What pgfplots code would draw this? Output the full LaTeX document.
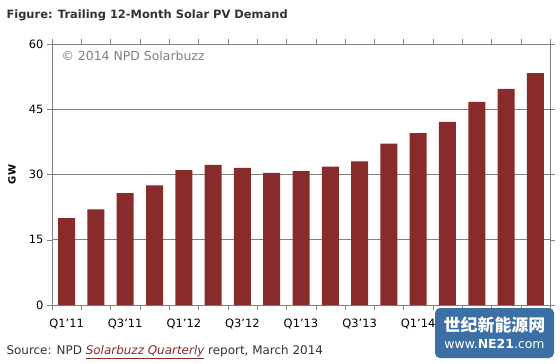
\documentclass[border=0pt]{standalone}
\usepackage{pgfplots}
\pgfplotsset{compat=1.18}
\usepackage{fontspec}
\setmainfont{DejaVu Sans}
\newfontfamily\cjk{Noto Sans CJK SC}
\definecolor{barred}{RGB}{137,42,43}
\definecolor{gridgray}{RGB}{128,128,128}
\definecolor{txt}{RGB}{51,51,51}
\definecolor{wmblue}{RGB}{60,111,163}
\begin{document}
\begin{tikzpicture}[x=1bp,y=1bp]
\useasboundingbox (0,0) rectangle (560,363);
\fill[white] (0,0) rectangle (560,363);
\node[anchor=west,text=txt,font=\fontsize{11.5}{13}\selectfont\bfseries] at (3,348) {Figure: Trailing 12-Month Solar PV Demand};
\begin{axis}[
  at={(52bp,58bp)}, anchor=south west,
  scale only axis, width=498bp, height=261bp,
  xmin=-0.5, xmax=16.5, ymin=0, ymax=60,
  ytick={0,15,30,45,60},
  xtick={0,2,...,16},
  xticklabels={Q1'11,Q3'11,Q1'12,Q3'12,Q1'13,Q3'13,Q1'14,Q3'14,Q1'15},
  minor xtick={-0.5,0.5,...,16.5},
  x tick style={draw=none},
  minor x tick style={draw=gridgray},
  y tick style={draw=gridgray},
  tick align=outside,
  major tick length=5bp, minor tick length=5bp,
  ymajorgrids, grid style={gridgray, line width=0.6pt},
  axis line style={gridgray, line width=0.7pt},
  tick label style={font=\fontsize{11.5}{13}\selectfont, text=black},
  x tick label style={yshift=-5bp},
  /pgf/number format/assume math mode=true,
  ylabel={\bfseries GW}, ylabel style={font=\fontsize{11}{13}\selectfont},
  every axis y label/.style={at={(rel axis cs:-0.0803,0.5)}, rotate=90, anchor=center},
  ybar, bar width=17bp,
  clip=false,
]
\addplot[fill=barred, draw=none] coordinates {
(0,20.0) (1,22.0) (2,25.7) (3,27.5) (4,31.0) (5,32.2) (6,31.5) (7,30.4)
(8,30.8) (9,31.8) (10,33.0) (11,37.1) (12,39.5) (13,42.1) (14,46.7) (15,49.7) (16,53.3)
};
\node[anchor=north west, text=gridgray, font=\fontsize{12.5}{14}\selectfont] at (rel axis cs:0,1) [xshift=6bp,yshift=-4bp] {\textcopyright{} 2014 NPD Solarbuzz};
\end{axis}
\node[anchor=west,text=txt,font=\fontsize{12}{14}\selectfont] at (3,11) {Source: NPD \textcolor{barred}{\underline{\itshape Solarbuzz Quarterly}} report, March 2014};
\fill[wmblue, rounded corners=5bp] (435,5) rectangle (554,55);
\node[text=white, font=\cjk\bfseries\fontsize{17}{19}\selectfont] at (494.5,38) {世纪新能源网};
\node[text=white, font=\fontsize{12.5}{14}\selectfont] at (494.5,19.5) {www.\textbf{NE21}.com};
\end{tikzpicture}
\end{document}
